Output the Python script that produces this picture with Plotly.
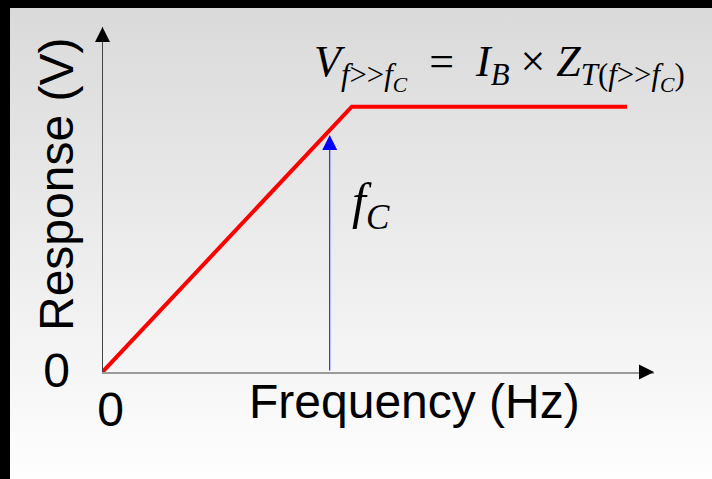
import base64
import plotly.graph_objects as go

# ---- data ----
freq = [0.0, 4.52, 9.51]          # frequency (arbitrary units)
resp = [0.0, 7.69, 7.69]          # response (arbitrary units)
fc_x = [4.12, 4.12]               # cut-off frequency marker (tail, tip)
fc_y = [0.0, 6.87]
x_range = [0, 10]
y_range = [0, 10]
x_tickvals = [0]
x_ticktext = ["0"]
y_tickvals = [0]
y_ticktext = ["0"]

W, H = 712, 479
SANS = "Liberation Sans, Arial, sans-serif"
SERIF = "Liberation Serif, Times New Roman, serif"

fig = go.Figure()
fig.add_trace(go.Scatter(x=freq, y=resp, mode="lines",
                         line=dict(color="#ff0000", width=4),
                         hoverinfo="skip", showlegend=False))

# ---- gradient background ----
svg = ('<svg xmlns="http://www.w3.org/2000/svg" width="100" height="100" '
       'viewBox="0 0 100 100" preserveAspectRatio="none">'
       '<defs><linearGradient id="g" x1="0" y1="0" x2="0" y2="1">'
       '<stop offset="0" stop-color="#d9d9d9"/>'
       '<stop offset="1" stop-color="#fefefe"/>'
       '</linearGradient></defs>'
       '<rect x="0" y="0" width="100" height="100" fill="url(#g)"/></svg>')
bg_src = "data:image/svg+xml;base64," + base64.b64encode(svg.encode()).decode()
images = [dict(source=bg_src, xref="paper", yref="paper",
               x=0, y=1, sizex=1, sizey=1,
               xanchor="left", yanchor="top", sizing="stretch",
               layer="below", opacity=1)]

# black frame bands (top and left)
shapes = [
    dict(type="rect", xref="paper", yref="paper", x0=0, x1=10 / W, y0=0, y1=1,
         fillcolor="#000000", line=dict(width=0), layer="below"),
    dict(type="rect", xref="paper", yref="paper", x0=0, x1=1, y0=1 - 8 / H, y1=1,
         fillcolor="#000000", line=dict(width=0), layer="below"),
]

annotations = []
# axis arrowheads
annotations.append(dict(xref="x domain", yref="y domain", x=0, y=1, ax=0, ay=15,
                        text="", showarrow=True, arrowhead=2, arrowsize=3,
                        arrowwidth=1, arrowcolor="#000000"))
annotations.append(dict(xref="x domain", yref="y domain", x=1, y=0, ax=-15, ay=0,
                        text="", showarrow=True, arrowhead=2, arrowsize=3,
                        arrowwidth=1, arrowcolor="#000000"))
# blue fc arrow
annotations.append(dict(xref="x", yref="y", x=fc_x[1], y=fc_y[1],
                        axref="x", ayref="y", ax=fc_x[0], ay=fc_y[0],
                        text="", showarrow=True, arrowhead=2, arrowsize=3,
                        arrowwidth=1, arrowcolor="#0000ff"))
# axis titles
annotations.append(dict(xref="paper", yref="paper", x=414 / W, y=1 - 401 / H,
                        text="Frequency (Hz)", showarrow=False,
                        xanchor="center", yanchor="middle",
                        font=dict(family=SANS, size=48, color="#000000")))
annotations.append(dict(xref="paper", yref="paper", x=56 / W, y=1 - 185 / H,
                        text="Response (V)", showarrow=False, textangle=-90,
                        xanchor="center", yanchor="middle",
                        font=dict(family=SANS, size=48, color="#000000")))
# formula
EN = "\u2002"
formula = ("<i>V</i><sub><i>f</i>&gt;&gt;<i>f</i><sub><i>C</i></sub></sub>" + EN + "=" + EN +
           "<i>I</i><sub><i>B</i></sub> × "
           "<i>Z</i><sub><i>T</i>(<i>f</i>&gt;&gt;<i>f</i><sub><i>C</i></sub>)</sub>")
annotations.append(dict(xref="paper", yref="paper", x=312 / W, y=1 - 67 / H,
                        text=formula, showarrow=False,
                        xanchor="left", yanchor="middle",
                        font=dict(family=SERIF, size=44, color="#000000")))
annotations.append(dict(xref="paper", yref="paper", x=350 / W, y=1 - 205 / H,
                        text="<i>f</i><sub><i>C</i></sub>", showarrow=False,
                        xanchor="left", yanchor="middle",
                        font=dict(family=SERIF, size=50, color="#000000")))

fig.update_layout(
    width=W, height=H,
    margin=dict(l=0, r=0, t=0, b=0, pad=0, autoexpand=False),
    paper_bgcolor="#000000",
    plot_bgcolor="rgba(0,0,0,0)",
    images=images,
    shapes=shapes,
    annotations=annotations,
    showlegend=False,
    xaxis=dict(domain=[102.5 / W, 654 / W], range=x_range, automargin=False,
               showline=True, linecolor="#9a9a9a", linewidth=2,
               showgrid=False, zeroline=False, ticks="",
               tickvals=x_tickvals, ticktext=x_ticktext,
               ticklabelstandoff=-6, ticklabelshift=8,
               tickfont=dict(family=SANS, size=48, color="#000000")),
    yaxis=dict(domain=[1 - 372 / H, 1 - 27 / H], range=y_range, automargin=False,
               showline=True, linecolor="#444444", linewidth=1,
               showgrid=False, zeroline=False, ticks="",
               tickvals=y_tickvals, ticktext=y_ticktext,
               ticklabelstandoff=22, ticklabelshift=-2,
               tickfont=dict(family=SANS, size=48, color="#000000")),
)

fig.write_html(
    "out.html",
    config={"displayModeBar": False, "staticPlot": True},
    post_script=("document.documentElement.style.margin='0';"
                 "document.body.style.margin='0';"
                 "document.body.style.padding='0';"
                 "document.body.style.overflow='hidden';"),
)
